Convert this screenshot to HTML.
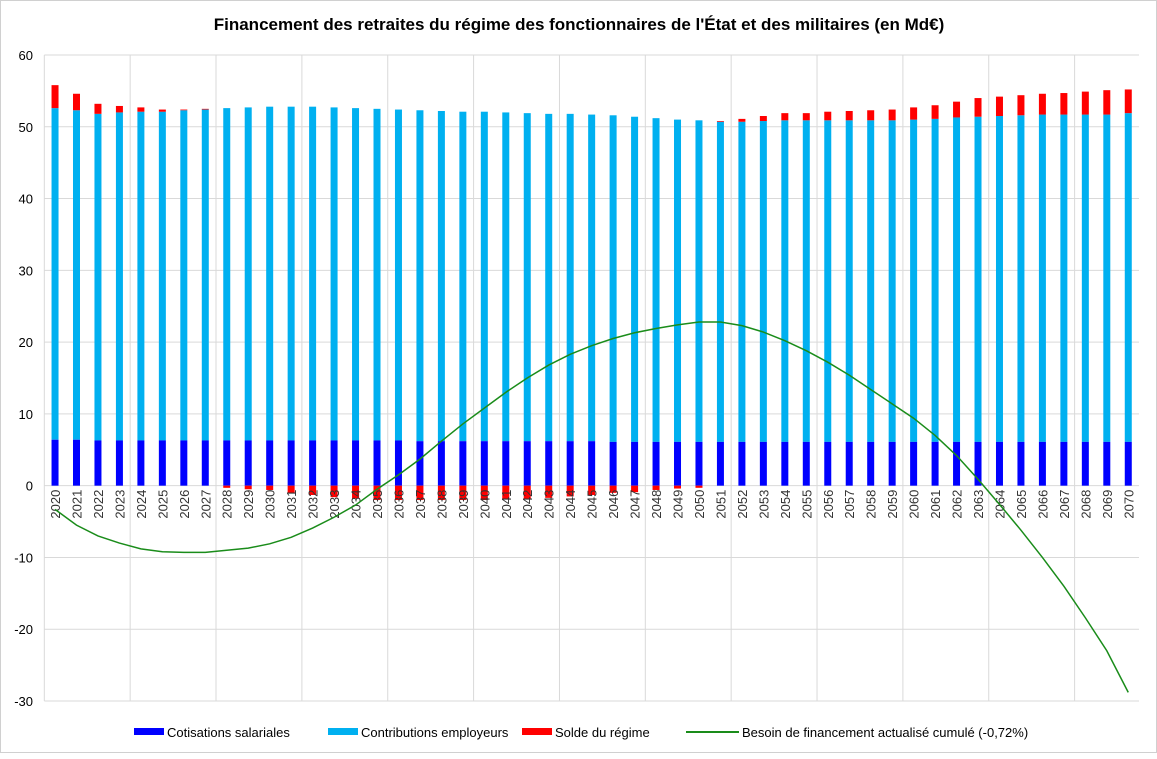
<!DOCTYPE html>
<html><head><meta charset="utf-8"><style>
body{margin:0;background:#fff;font-family:"Liberation Sans",sans-serif;}
#wrap{position:relative;width:1157px;height:753px;border:1px solid #d0d0d0;box-sizing:border-box;}
</style></head><body>
<div id="wrap">
<svg id="chart" width="1157" height="753">
<text x="578" y="29" text-anchor="middle" font-size="17" font-weight="bold" font-family="Liberation Sans, sans-serif">Financement des retraites du régime des fonctionnaires de l'État et des militaires (en Md€)</text>
</svg>
</div>
<script>
const years=[];for(let y=2020;y<=2070;y++)years.push(y);
const cotisations=[6.4,6.4,6.3,6.3,6.3,6.3,6.3,6.3,6.3,6.3,6.3,6.3,6.3,6.3,6.3,6.3,6.3,6.2,6.2,6.2,6.2,6.2,6.2,6.2,6.2,6.2,6.1,6.1,6.1,6.1,6.1,6.1,6.1,6.1,6.1,6.1,6.1,6.1,6.1,6.1,6.1,6.1,6.1,6.1,6.1,6.1,6.1,6.1,6.1,6.1,6.1];
const contribTotal=[52.6,52.3,51.8,52.0,52.1,52.1,52.3,52.4,52.6,52.7,52.8,52.8,52.8,52.7,52.6,52.5,52.4,52.3,52.2,52.1,52.1,52.0,51.9,51.8,51.8,51.7,51.6,51.4,51.2,51.0,50.9,50.7,50.7,50.8,50.9,50.9,50.9,50.9,50.9,50.9,51.0,51.1,51.3,51.4,51.5,51.6,51.7,51.7,51.7,51.7,51.9];
const solde=[3.2,2.3,1.4,0.9,0.6,0.3,0.1,0.1,-0.3,-0.5,-0.6,-1.0,-1.3,-1.6,-1.8,-2.0,-2.0,-2.0,-2.0,-2.0,-2.0,-1.9,-1.8,-1.7,-1.5,-1.3,-1.0,-0.9,-0.6,-0.4,-0.3,0.1,0.4,0.7,1.0,1.0,1.2,1.3,1.4,1.5,1.7,1.9,2.2,2.6,2.7,2.8,2.9,3.0,3.2,3.4,3.3];
const besoin=[-3.3,-5.5,-7.0,-8.0,-8.8,-9.2,-9.3,-9.3,-9.0,-8.7,-8.1,-7.2,-5.9,-4.4,-2.7,-0.5,1.5,3.7,6.2,8.6,10.8,13.0,15.0,16.8,18.3,19.5,20.5,21.3,21.9,22.4,22.8,22.8,22.3,21.4,20.2,18.8,17.2,15.4,13.4,11.4,9.4,7.0,4.2,0.9,-2.6,-6.2,-10.0,-14.0,-18.4,-23.0,-28.8];
const yTicks=[60,50,40,30,20,10,0,-10,-20,-30];
const NS="http://www.w3.org/2000/svg";
const svg=document.getElementById('chart');
const L=43.3,R=1138,T=54,B=700;
const step=(R-L)/years.length;
const X=i=>L+step*(i+0.5);
const Y=v=>T+(60-v)*(B-T)/90;
function mk(t,a){const e=document.createElementNS(NS,t);for(const k in a)e.setAttribute(k,a[k]);svg.appendChild(e);return e;}
yTicks.forEach(t=>{
 const g=mk('line',{x1:L,x2:R,y1:Y(t),y2:Y(t),stroke:'#d9d9d9','stroke-width':1});
 
 
 const l=mk('text',{x:32,y:Y(t)+5,'text-anchor':'end','font-size':13,fill:'#000'});
 l.textContent=t;
 
 
});
for(let i=0;i<=years.length;i+=4){
 const x=L+step*i;
 const g=mk('line',{x1:x,x2:x,y1:T,y2:B,stroke:'#d9d9d9','stroke-width':1});
 
 
}
const bw=7;
years.forEach((yr,i)=>{
 const x=X(i)-bw/2;
 const c=mk('rect',{x:x,y:Y(contribTotal[i]),width:bw,height:Y(cotisations[i])-Y(contribTotal[i]),fill:'#00b0f0'});
 
 
 const b=mk('rect',{x:x,y:Y(cotisations[i]),width:bw,height:Y(0)-Y(cotisations[i]),fill:'#0000ff'});
 
 
 const s=solde[i];
 const y0=s>=0?Y(contribTotal[i]+s):Y(0);
 const h=Math.abs(Y(s)-Y(0));
 const r=mk('rect',{x:x,y:y0,width:bw,height:h,fill:'#ff0000'});
 
 
 const tx=X(i)+5,ty=Y(0)+4;
 const l=mk('text',{x:tx,y:ty,'text-anchor':'end','font-size':13,fill:'#333',transform:`rotate(-90 ${tx} ${ty})`});
 l.textContent=yr;
 
 
});
const p=mk('polyline',{points:besoin.map((v,i)=>X(i)+','+Y(v)).join(' '),fill:'none',stroke:'#1a8c1a','stroke-width':1.5});


const legend=[['Cotisations salariales','#0000ff',133,'rect'],['Contributions employeurs','#00b0f0',327,'rect'],['Solde du régime','#ff0000',521,'rect'],['Besoin de financement actualisé cumulé (-0,72%)','#1a8c1a',685,'line']];
legend.forEach(([n,c,x,k])=>{
 let m;
 if(k==='rect')m=mk('rect',{x:x,y:727,width:30,height:7,fill:c});
 else m=mk('line',{x1:x,x2:x+53,y1:731,y2:731,stroke:c,'stroke-width':2});
 
 
 const t=mk('text',{x:x+(k==='rect'?33:56),y:736,'font-size':13,fill:'#000'});
 t.textContent=n;
 
 
});
</script>
</body></html>
